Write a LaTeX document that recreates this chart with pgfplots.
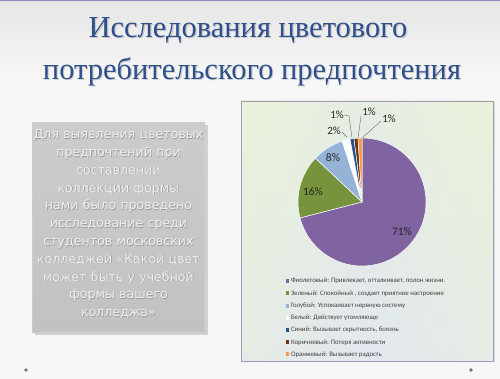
\documentclass[border=0pt]{standalone}
\usepackage{pgfplots}
\pgfplotsset{compat=1.18}
\usepackage{pgfplotstable}
\usepackage{fontspec}
\setmainfont{Liberation Serif}
\newfontfamily\titlefont{Liberation Serif}
\newfontfamily\boxfont{DejaVu Sans}
\newfontfamily\calib{Carlito}
\definecolor{cPurple}{HTML}{8064A2}
\definecolor{cGreen}{HTML}{77933C}
\definecolor{cLtBlue}{HTML}{95B3D7}
\definecolor{cWhite}{HTML}{FFFFFF}
\definecolor{cBlue}{HTML}{265089}
\definecolor{cBrown}{HTML}{6B3312}
\definecolor{cOrange}{HTML}{F79646}
\definecolor{titleblue}{HTML}{2D4F8C}
\definecolor{boxtext}{HTML}{F0F0F0}
\definecolor{chartA}{HTML}{EAF2DA}
\definecolor{chartB}{HTML}{E2E8EF}
\definecolor{chartborder}{HTML}{A09CBC}
\definecolor{legtext}{HTML}{404040}

\pgfplotstableread{
value color
71 cPurple
16 cGreen
8 cLtBlue
2 cWhite
1 cBlue
1 cBrown
1 cOrange
}\piedata

\begin{document}
\begin{tikzpicture}[x=1pt,y=1pt]
% slide background
\fill[black!3] (0,0) rectangle (500,379) ;
\shade[top color=black!10, bottom color=black!3] (0,300) rectangle (500,379);
\fill[blue!30!gray!70] (0,377.5) rectangle (500,379);
\fill[black!55] (26,9) circle (1.8);
\fill[black!55] (471,9) circle (1.8);

% title
\foreach \dx/\dy/\col/\op in {1.2/-1.2/black/0.15, 0/0/titleblue/1}{
  \node[font=\titlefont\fontsize{30.5}{34}\selectfont, text=\col, opacity=\op] at (248+\dx,349+\dy) {Исследования цветового};
  \node[font=\titlefont\fontsize{30.5}{34}\selectfont, text=\col, opacity=\op] at (252+\dx,307+\dy) {потребительского предпочтения};
}

% left box
\fill[black!18] (34.5,43.5) rectangle (207.5,253.5);
\shade[top color=black!20, bottom color=black!24] (32,46) rectangle (205,256);
\draw[white!80!black, line width=0.8pt] (32.5,46.5) rectangle (204.5,255.5);
\foreach \dx/\dy/\col in {0.6/-0.6/black!40, 0/0/boxtext}{
  \node[font=\boxfont\fontsize{12.6}{17.8}\selectfont, text=\col, align=center, text width=180pt] at (118.5+\dx,155+\dy)
  {Для выявления цветовых\\предпочтений при\\составлении\\коллекции формы\\нами было проведено\\исследование среди\\студентов московских\\колледжей «Какой цвет\\может быть у учебной\\формы вашего\\колледжа»};
}

% chart area
\fill[black!15] (242.5,16.5) rectangle (494.5,276.5);
\shade[left color=chartA, right color=chartA, middle color=chartB] (241,18) rectangle (493,278);
\shade[top color=chartA, bottom color=chartB, opacity=0.5] (241,18) rectangle (493,278);
\draw[chartborder, line width=0.9pt] (241,18) rectangle (493,278);

\begin{axis}[
  at={(0,0)}, anchor=south west,
  width=500pt, height=379pt, scale only axis,
  xmin=0, xmax=500, ymin=0, ymax=379,
  hide axis, clip=false]
  \def\cum{0}
  \pgfplotsforeachungrouped \i in {0,...,6}{
    \pgfplotstablegetelem{\i}{value}\of\piedata \let\v\pgfplotsretval
    \pgfplotstablegetelem{\i}{color}\of\piedata \let\c\pgfplotsretval
    \pgfmathsetmacro\a{90-3.6*\cum}
    \pgfmathsetmacro\b{90-3.6*(\cum+\v)}
    \edef\doit{\noexpand\fill[\c, draw=white, line width=0.5pt, line join=round] (axis cs:362,177) -- (axis cs:{362+64*cos(\a)},{177+64*sin(\a)}) arc[start angle=\a, end angle=\b, radius=64pt] -- cycle;}
    \doit
    \pgfmathsetmacro\cum{\cum+\v}
  }
  % leader lines
  \draw[black!60, line width=0.4pt] (axis cs:344,264) -- (axis cs:349,263) -- (axis cs:352,241);
  \draw[black!60, line width=0.4pt] (axis cs:361,263) -- (axis cs:358,241);
  \draw[black!60, line width=0.4pt] (axis cs:381,258) -- (axis cs:362,241);
  \draw[black!60, line width=0.4pt] (axis cs:342,247) -- (axis cs:347,242);
  % labels
  \node[font=\calib\fontsize{11.5}{13}\selectfont, text=black!85] at (axis cs:402,147) {71\%};
  \node[font=\calib\fontsize{11.5}{13}\selectfont, text=black!85] at (axis cs:313,187) {16\%};
  \node[font=\calib\fontsize{11.5}{13}\selectfont, text=black!85] at (axis cs:333,221) {8\%};
  \node[font=\calib\fontsize{11}{13}\selectfont, text=black!85] at (axis cs:334,248) {2\%};
  \node[font=\calib\fontsize{11}{13}\selectfont, text=black!85] at (axis cs:337,264) {1\%};
  \node[font=\calib\fontsize{11}{13}\selectfont, text=black!85] at (axis cs:369,267) {1\%};
  \node[font=\calib\fontsize{11}{13}\selectfont, text=black!85] at (axis cs:389,260) {1\%};
\end{axis}
% legend
\foreach \yy/\col/\txt in {
   98/cPurple/{Фиолетовый: Привлекает, отталкивает,  полон жизни.},
   85.7/cGreen/{Зеленый: Спокойный , создает приятное настроение},
   73.3/cLtBlue/{Голубой: Успокаивает нервную систему},
   61.3/cWhite/{Белый: Действует утомляюще},
   49/cBlue/{Синий: Вызывает скрытность,  боязнь},
   36.7/cBrown/{Коричневый: Потеря  активности},
   24.7/cOrange/{Оранжевый: Вызывает радость}}{
  \fill[\col] (285.5,\yy-1.9) rectangle (289.3,\yy+1.9);
  \node[anchor=west, inner sep=0pt, font=\calib\fontsize{6.8}{8}\selectfont, text=legtext] at (290.8,\yy) {\txt};
}
\end{tikzpicture}
\end{document}
